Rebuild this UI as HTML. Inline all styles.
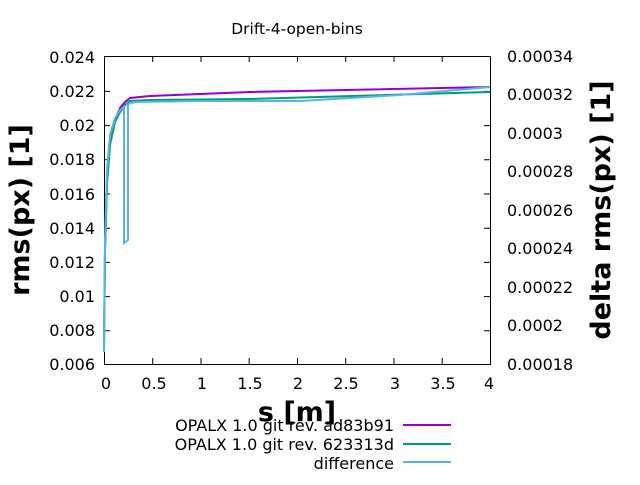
<!DOCTYPE html>
<html><head><style>body{margin:0;background:#fff}svg{font-family:"DejaVu Sans","Liberation Sans",sans-serif}</style></head><body>
<svg width="640" height="480" viewBox="0 0 640 480">
<rect width="640" height="480" fill="#fff"/>
<text x="297" y="34" font-size="15.5" text-anchor="middle">Drift-4-open-bins</text>
<g stroke="#000" stroke-width="1" fill="none">
<rect x="104.5" y="56.5" width="386" height="308"/>
<path d="M104 330.8h6M104 296.6h6M104 262.4h6M104 228.2h6M104 194h6M104 159.8h6M104 125.6h6M104 91.4h6M490 330.8h-6M490 296.6h-6M490 262.4h-6M490 228.2h-6M490 194h-6M490 159.8h-6M490 125.6h-6M490 91.4h-6M152.7 364v-6M201 364v-6M249.2 364v-6M297.5 364v-6M345.7 364v-6M394 364v-6M442.2 364v-6M152.7 56v6M201 56v6M249.2 56v6M297.5 56v6M345.7 56v6M394 56v6M442.2 56v6"/>
</g>
<g font-size="16" text-anchor="end">
<text x="95" y="370">0.006</text><text x="95" y="336">0.008</text><text x="95" y="302">0.01</text><text x="95" y="268">0.012</text><text x="95" y="234">0.014</text><text x="95" y="200">0.016</text><text x="95" y="165">0.018</text><text x="95" y="131">0.02</text><text x="95" y="97">0.022</text><text x="95" y="63">0.024</text>
</g>
<g font-size="16" text-anchor="start">
<text x="507" y="370">0.00018</text><text x="507" y="331">0.0002</text><text x="507" y="293">0.00022</text><text x="507" y="254">0.00024</text><text x="507" y="216">0.00026</text><text x="507" y="177">0.00028</text><text x="507" y="139">0.0003</text><text x="507" y="100">0.00032</text><text x="507" y="62">0.00034</text>
</g>
<g font-size="16" text-anchor="middle">
<text x="106" y="389">0</text><text x="154" y="389">0.5</text><text x="202" y="389">1</text><text x="250" y="389">1.5</text><text x="298" y="389">2</text><text x="346" y="389">2.5</text><text x="395" y="389">3</text><text x="443" y="389">3.5</text><text x="489" y="389">4</text>
</g>
<text x="297" y="421" font-size="27" font-weight="bold" text-anchor="middle">s [m]</text>
<text transform="translate(29,210) rotate(-90)" font-size="27" font-weight="bold" text-anchor="middle">rms(px) [1]</text>
<text transform="translate(610,210) rotate(-90)" font-size="27" font-weight="bold" text-anchor="middle">delta rms(px) [1]</text>
<g fill="none" stroke-width="2">
<polyline stroke="#9400d3" points="104,350 105,250 107,180 110,140 115,120 120,108 125,102 130,98 150,96 250,92 490,87"/>
<polyline stroke="#009e73" points="104,345 105,250 107,185 110,145 115,122 120,112 125,105 130,101 150,100 250,99 490,92"/>
<polyline stroke="#56b4e9" points="104,352 105,240 107,170 110,135 115,118 120,110 124,107 124,243 128,240 128,104 135,102 200,101 300,101 350,98 400,95 490,87"/>
</g>
<g font-size="16" text-anchor="end">
<text x="394" y="431">OPALX 1.0 git rev. ad83b91</text>
<text x="394" y="450">OPALX 1.0 git rev. 623313d</text>
<text x="394" y="469">difference</text>
</g>
<g stroke-width="2">
<line x1="403" y1="425" x2="451" y2="425" stroke="#9400d3"/>
<line x1="403" y1="444" x2="451" y2="444" stroke="#009e73"/>
<line x1="403" y1="462" x2="451" y2="462" stroke="#56b4e9"/>
</g>
</svg>
</body></html>
